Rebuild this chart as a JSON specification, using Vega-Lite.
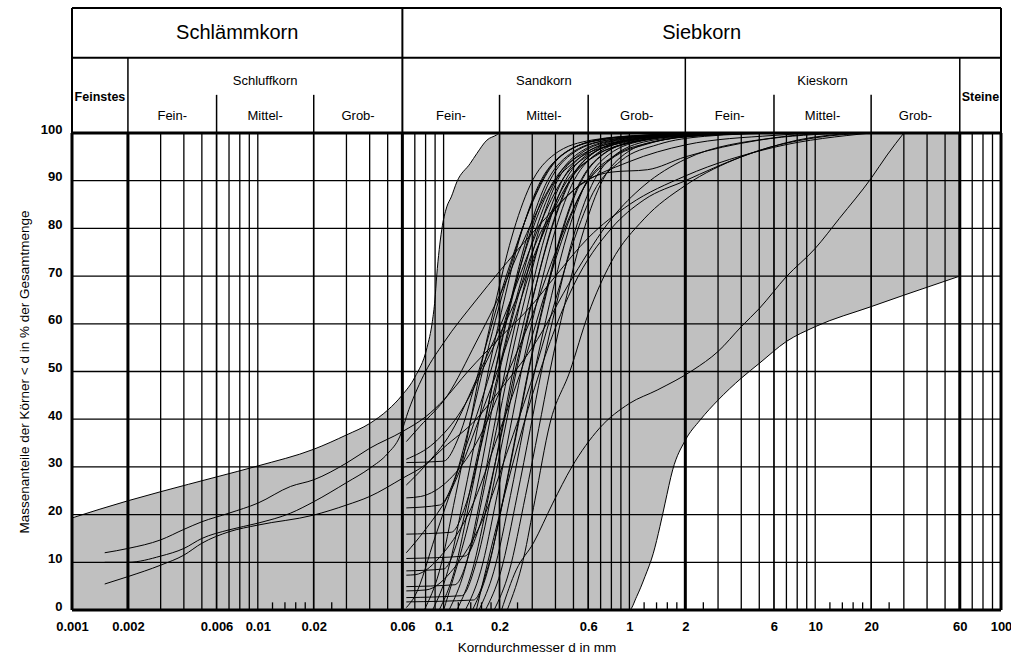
{
"$schema": "https://vega.github.io/schema/vega-lite/v6.json",
"width": 929, "height": 477,
"autosize": {"type": "none"},
"padding": {"left": 72, "top": 133, "right": 10, "bottom": 47},
"config": {"view": {"stroke": null}, "font": "Liberation Sans"},
"datasets": {
"env": [
{"d":0.001,"p":19.3,"lo":0},{"d":0.002,"p":22.9,"lo":0},{"d":0.003,"p":24.8,"lo":0},{"d":0.006,"p":27.9,"lo":0},{"d":0.01,"p":30.2,"lo":0},{"d":0.02,"p":33.7,"lo":0},{"d":0.03,"p":36.7,"lo":0},{"d":0.04,"p":39.1,"lo":0},{"d":0.05,"p":41.9,"lo":0},{"d":0.06,"p":45.1,"lo":0},{"d":0.07,"p":48.8,"lo":0},{"d":0.0814,"p":55,"lo":0},{"d":0.087,"p":60.5,"lo":0},{"d":0.0898,"p":65,"lo":0},{"d":0.0918,"p":70,"lo":0},{"d":0.0977,"p":79.7,"lo":0},{"d":0.104,"p":84.5,"lo":0},{"d":0.11,"p":86.6,"lo":0},{"d":0.118,"p":89.8,"lo":0},{"d":0.139,"p":93.6,"lo":0},{"d":0.151,"p":95.7,"lo":0},{"d":0.171,"p":98.5,"lo":0},{"d":0.193,"p":99.6,"lo":0},{"d":0.2,"p":100,"lo":0},
{"d":1.0,"p":100,"lo":0},{"d":1.094,"p":100,"lo":2.8},{"d":1.213,"p":100,"lo":7},{"d":1.345,"p":100,"lo":11.9},{"d":1.46,"p":100,"lo":17.5},{"d":1.556,"p":100,"lo":22.4},{"d":1.71,"p":100,"lo":29.4},{"d":2.0,"p":100,"lo":35.6},{"d":2.4,"p":100,"lo":39.8},{"d":3,"p":100,"lo":44},{"d":4,"p":100,"lo":48.6},{"d":5,"p":100,"lo":51.7},{"d":7,"p":100,"lo":56.3},{"d":10,"p":100,"lo":59.4},{"d":20,"p":100,"lo":63.6},{"d":30,"p":100,"lo":66},{"d":60,"p":100,"lo":70}
],
"hgrid": [{"p":10},{"p":20},{"p":30},{"p":40},{"p":50},{"p":60},{"p":70},{"p":80},{"p":90}],
"vthin": [{"d":0.003},{"d":0.004},{"d":0.005},{"d":0.007},{"d":0.008},{"d":0.009},{"d":0.01},{"d":0.03},{"d":0.04},{"d":0.05},{"d":0.07},{"d":0.08},{"d":0.09},{"d":0.1},{"d":0.3},{"d":0.4},{"d":0.5},{"d":0.7},{"d":0.8},{"d":0.9},{"d":1},{"d":3},{"d":4},{"d":5},{"d":7},{"d":8},{"d":9},{"d":10},{"d":30},{"d":40},{"d":50},{"d":70},{"d":80},{"d":90}],
"vmed": [{"d":0.006},{"d":0.02},{"d":0.2},{"d":0.6},{"d":6},{"d":20}],
"vthick": [{"d":0.002},{"d":0.06},{"d":2},{"d":60}],
"minor": [{"d":0.012},{"d":0.014},{"d":0.016},{"d":0.018},{"d":0.025},{"d":0.12},{"d":0.14},{"d":0.16},{"d":0.18},{"d":0.25},{"d":1.2},{"d":1.4},{"d":1.6},{"d":1.8},{"d":2.5},{"d":12},{"d":14},{"d":16},{"d":18},{"d":25}],
"borderH": [{"p":0},{"p":100}],
"borderV": [{"d":0.001},{"d":100}],
"hdrFull": [{"d":0.001},{"d":0.06},{"d":100}],
"hdrMid": [{"d":0.002},{"d":2},{"d":60}],
"hdrSub": [{"d":0.006},{"d":0.02},{"d":0.2},{"d":0.6},{"d":6},{"d":20}],
"hdrRows": [{"p":115.8},{"p":126.2}],
"hdrBig": [{"label":"Schlämmkorn","d":0.00775},{"label":"Siebkorn","d":2.449}],
"hdrClass": [{"label":"Schluffkorn","d":0.01095},{"label":"Sandkorn","d":0.3464},{"label":"Kieskorn","d":10.95}],
"hdrEdge": [{"label":"Feinstes","d":0.001414},{"label":"Steine","d":77.46}],
"hdrSubLbl": [{"label":"Fein-","d":0.003464},{"label":"Mittel-","d":0.01095},{"label":"Grob-","d":0.03464},{"label":"Fein-","d":0.1095},{"label":"Mittel-","d":0.3464},{"label":"Grob-","d":1.095},{"label":"Fein-","d":3.464},{"label":"Mittel-","d":10.95},{"label":"Grob-","d":34.64}],
"curves": [
{"id":"S1","d":0.0015,"p":12.0},{"id":"S1","d":0.002,"p":12.9},{"id":"S1","d":0.003,"p":14.7},{"id":"S1","d":0.004,"p":16.9},{"id":"S1","d":0.005,"p":18.5},{"id":"S1","d":0.007,"p":20.3},{"id":"S1","d":0.01,"p":22.4},{"id":"S1","d":0.015,"p":25.9},{"id":"S1","d":0.02,"p":27.3},{"id":"S1","d":0.03,"p":30.8},{"id":"S1","d":0.04,"p":33.9},{"id":"S1","d":0.06,"p":37.4},{"id":"S1","d":0.08,"p":40.5},{"id":"S1","d":0.1,"p":44},{"id":"S1","d":0.135,"p":50},{"id":"S1","d":0.2,"p":57},{"id":"S1","d":0.3,"p":64},{"id":"S1","d":0.4,"p":70},{"id":"S1","d":0.6,"p":78},{"id":"S1","d":1,"p":85},{"id":"S1","d":2,"p":91},{"id":"S1","d":6,"p":97},{"id":"S1","d":20,"p":100},
{"id":"S2","d":0.0015,"p":10},{"id":"S2","d":0.002,"p":10},{"id":"S2","d":0.003,"p":11.3},{"id":"S2","d":0.004,"p":12.9},{"id":"S2","d":0.005,"p":15},{"id":"S2","d":0.007,"p":16.8},{"id":"S2","d":0.01,"p":18.2},{"id":"S2","d":0.015,"p":20.3},{"id":"S2","d":0.02,"p":22.7},{"id":"S2","d":0.03,"p":26.7},{"id":"S2","d":0.04,"p":29.7},{"id":"S2","d":0.05,"p":32.8},{"id":"S2","d":0.058,"p":36.3},{"id":"S2","d":0.065,"p":42},{"id":"S2","d":0.08,"p":50},{"id":"S2","d":0.1,"p":56},{"id":"S2","d":0.15,"p":65},{"id":"S2","d":0.2,"p":71},{"id":"S2","d":0.3,"p":79},{"id":"S2","d":0.5,"p":88},{"id":"S2","d":1,"p":94},{"id":"S2","d":2,"p":97.5},{"id":"S2","d":6,"p":99.5},{"id":"S2","d":10,"p":100},
{"id":"S3","d":0.0015,"p":5.45},{"id":"S3","d":0.002,"p":7.0},{"id":"S3","d":0.003,"p":9.4},{"id":"S3","d":0.004,"p":11.5},{"id":"S3","d":0.005,"p":14.0},{"id":"S3","d":0.007,"p":16.4},{"id":"S3","d":0.01,"p":17.8},{"id":"S3","d":0.02,"p":19.9},{"id":"S3","d":0.03,"p":22.0},{"id":"S3","d":0.04,"p":23.8},{"id":"S3","d":0.06,"p":27.6},{"id":"S3","d":0.08,"p":30.5},{"id":"S3","d":0.1,"p":34},{"id":"S3","d":0.15,"p":40},{"id":"S3","d":0.2,"p":46},{"id":"S3","d":0.3,"p":55},{"id":"S3","d":0.5,"p":70},{"id":"S3","d":0.8,"p":82},{"id":"S3","d":1.2,"p":89},{"id":"S3","d":2,"p":94.5},{"id":"S3","d":6,"p":99},{"id":"S3","d":12,"p":100},
{"id":"L1","d":0.063,"p":35.3},{"id":"L1","d":0.0746,"p":38.5},{"id":"L1","d":0.105,"p":45.0},{"id":"L1","d":0.149,"p":56.0},{"id":"L1","d":0.21,"p":67.7},{"id":"L1","d":0.264,"p":76.7},{"id":"L1","d":0.333,"p":85.1},{"id":"L1","d":0.419,"p":91.6},{"id":"L1","d":0.592,"p":96.1},{"id":"L1","d":0.938,"p":98.4},{"id":"L1","d":1.67,"p":99.5},{"id":"L1","d":4.19,"p":100},
{"id":"L2","d":0.063,"p":31.6},{"id":"L2","d":0.0888,"p":35.0},{"id":"L2","d":0.125,"p":41.9},{"id":"L2","d":0.177,"p":53.5},{"id":"L2","d":0.25,"p":65.8},{"id":"L2","d":0.315,"p":75.4},{"id":"L2","d":0.396,"p":84.3},{"id":"L2","d":0.499,"p":91.1},{"id":"L2","d":0.705,"p":95.9},{"id":"L2","d":1.12,"p":98.3},{"id":"L2","d":1.99,"p":99.5},{"id":"L2","d":4.99,"p":100},
{"id":"L3","d":0.063,"p":30.9},{"id":"L3","d":0.1,"p":31.2},{"id":"L3","d":0.121,"p":36.4},{"id":"L3","d":0.148,"p":47.5},{"id":"L3","d":0.174,"p":57.2},{"id":"L3","d":0.2,"p":65.5},{"id":"L3","d":0.24,"p":75.1},{"id":"L3","d":0.296,"p":84.8},{"id":"L3","d":0.372,"p":92.4},{"id":"L3","d":0.502,"p":96.9},{"id":"L3","d":0.796,"p":99.0},{"id":"L3","d":1.59,"p":99.7},{"id":"L3","d":3.17,"p":100},
{"id":"L4","d":0.063,"p":26.2},{"id":"L4","d":0.0781,"p":29.9},{"id":"L4","d":0.11,"p":37.3},{"id":"L4","d":0.156,"p":49.8},{"id":"L4","d":0.22,"p":63.1},{"id":"L4","d":0.277,"p":73.4},{"id":"L4","d":0.349,"p":83.0},{"id":"L4","d":0.439,"p":90.4},{"id":"L4","d":0.62,"p":95.6},{"id":"L4","d":0.983,"p":98.2},{"id":"L4","d":1.75,"p":99.5},{"id":"L4","d":4.39,"p":100},
{"id":"L5","d":0.063,"p":23.5},{"id":"L5","d":0.0753,"p":23.8},{"id":"L5","d":0.107,"p":27.3},{"id":"L5","d":0.15,"p":35.0},{"id":"L5","d":0.212,"p":48.0},{"id":"L5","d":0.3,"p":61.8},{"id":"L5","d":0.378,"p":72.5},{"id":"L5","d":0.476,"p":82.4},{"id":"L5","d":0.599,"p":90.1},{"id":"L5","d":0.845,"p":95.4},{"id":"L5","d":1.34,"p":98.1},{"id":"L5","d":2.38,"p":99.5},{"id":"L5","d":5.99,"p":100},
{"id":"L6","d":0.063,"p":21.4},{"id":"L6","d":0.0952,"p":22.0},{"id":"L6","d":0.115,"p":27.7},{"id":"L6","d":0.141,"p":40.3},{"id":"L6","d":0.165,"p":51.3},{"id":"L6","d":0.19,"p":60.7},{"id":"L6","d":0.228,"p":71.7},{"id":"L6","d":0.281,"p":82.7},{"id":"L6","d":0.354,"p":91.4},{"id":"L6","d":0.477,"p":96.5},{"id":"L6","d":0.756,"p":98.8},{"id":"L6","d":1.51,"p":99.7},{"id":"L6","d":3.01,"p":100},
{"id":"L7","d":0.063,"p":15.9},{"id":"L7","d":0.11,"p":16.3},{"id":"L7","d":0.133,"p":22.6},{"id":"L7","d":0.163,"p":36.1},{"id":"L7","d":0.192,"p":47.9},{"id":"L7","d":0.22,"p":57.9},{"id":"L7","d":0.264,"p":69.7},{"id":"L7","d":0.325,"p":81.5},{"id":"L7","d":0.41,"p":90.7},{"id":"L7","d":0.553,"p":96.2},{"id":"L7","d":0.876,"p":98.7},{"id":"L7","d":1.75,"p":99.7},{"id":"L7","d":3.49,"p":100},
{"id":"L8","d":0.063,"p":12},{"id":"L8","d":0.0781,"p":16.4},{"id":"L8","d":0.11,"p":25.2},{"id":"L8","d":0.156,"p":40.2},{"id":"L8","d":0.22,"p":56.0},{"id":"L8","d":0.277,"p":68.3},{"id":"L8","d":0.349,"p":79.8},{"id":"L8","d":0.439,"p":88.6},{"id":"L8","d":0.62,"p":94.7},{"id":"L8","d":0.983,"p":97.8},{"id":"L8","d":1.75,"p":99.4},{"id":"L8","d":4.39,"p":100},
{"id":"L9","d":0.063,"p":10.8},{"id":"L9","d":0.13,"p":11.3},{"id":"L9","d":0.157,"p":17.9},{"id":"L9","d":0.193,"p":32.2},{"id":"L9","d":0.226,"p":44.7},{"id":"L9","d":0.26,"p":55.4},{"id":"L9","d":0.313,"p":67.9},{"id":"L9","d":0.385,"p":80.4},{"id":"L9","d":0.484,"p":90.2},{"id":"L9","d":0.653,"p":96.0},{"id":"L9","d":1.04,"p":98.7},{"id":"L9","d":2.07,"p":99.6},{"id":"L9","d":4.12,"p":100},
{"id":"L10","d":0.063,"p":8.2},{"id":"L10","d":0.1,"p":8.6},{"id":"L10","d":0.121,"p":15.5},{"id":"L10","d":0.148,"p":30.2},{"id":"L10","d":0.174,"p":43.1},{"id":"L10","d":0.2,"p":54.1},{"id":"L10","d":0.24,"p":67.0},{"id":"L10","d":0.296,"p":79.8},{"id":"L10","d":0.372,"p":89.9},{"id":"L10","d":0.502,"p":95.9},{"id":"L10","d":0.796,"p":98.6},{"id":"L10","d":1.59,"p":99.6},{"id":"L10","d":3.17,"p":100},
{"id":"L11","d":0.063,"p":7.3},{"id":"L11","d":0.0703,"p":7.4},{"id":"L11","d":0.0994,"p":11.9},{"id":"L11","d":0.14,"p":21.2},{"id":"L11","d":0.198,"p":37.0},{"id":"L11","d":0.28,"p":53.7},{"id":"L11","d":0.353,"p":66.6},{"id":"L11","d":0.444,"p":78.7},{"id":"L11","d":0.559,"p":88.0},{"id":"L11","d":0.789,"p":94.4},{"id":"L11","d":1.25,"p":97.7},{"id":"L11","d":2.22,"p":99.4},{"id":"L11","d":5.59,"p":100},
{"id":"L12","d":0.063,"p":4.9},{"id":"L12","d":0.115,"p":5.3},{"id":"L12","d":0.139,"p":12.5},{"id":"L12","d":0.17,"p":27.7},{"id":"L12","d":0.2,"p":41.0},{"id":"L12","d":0.23,"p":52.5},{"id":"L12","d":0.276,"p":65.8},{"id":"L12","d":0.34,"p":79.1},{"id":"L12","d":0.428,"p":89.5},{"id":"L12","d":0.578,"p":95.7},{"id":"L12","d":0.916,"p":98.6},{"id":"L12","d":1.83,"p":99.6},{"id":"L12","d":3.65,"p":100},
{"id":"L13","d":0.063,"p":4.0},{"id":"L13","d":0.0803,"p":4.2},{"id":"L13","d":0.114,"p":8.8},{"id":"L13","d":0.16,"p":18.4},{"id":"L13","d":0.227,"p":34.7},{"id":"L13","d":0.32,"p":52.0},{"id":"L13","d":0.403,"p":65.4},{"id":"L13","d":0.507,"p":77.9},{"id":"L13","d":0.638,"p":87.5},{"id":"L13","d":0.902,"p":94.2},{"id":"L13","d":1.43,"p":97.6},{"id":"L13","d":2.54,"p":99.3},{"id":"L13","d":6.38,"p":100},
{"id":"L14","d":0.063,"p":2.6},{"id":"L14","d":0.125,"p":3.0},{"id":"L14","d":0.151,"p":10.4},{"id":"L14","d":0.185,"p":26.0},{"id":"L14","d":0.218,"p":39.6},{"id":"L14","d":0.25,"p":51.3},{"id":"L14","d":0.301,"p":65.0},{"id":"L14","d":0.37,"p":78.6},{"id":"L14","d":0.466,"p":89.3},{"id":"L14","d":0.628,"p":95.6},{"id":"L14","d":0.995,"p":98.5},{"id":"L14","d":1.99,"p":99.6},{"id":"L14","d":3.96,"p":100},
{"id":"L15","d":0.063,"p":1.7},{"id":"L15","d":0.145,"p":2.1},{"id":"L15","d":0.175,"p":9.6},{"id":"L15","d":0.215,"p":25.3},{"id":"L15","d":0.253,"p":39.1},{"id":"L15","d":0.29,"p":50.9},{"id":"L15","d":0.349,"p":64.6},{"id":"L15","d":0.429,"p":78.4},{"id":"L15","d":0.54,"p":89.2},{"id":"L15","d":0.728,"p":95.6},{"id":"L15","d":1.15,"p":98.5},{"id":"L15","d":2.3,"p":99.6},{"id":"L15","d":4.6,"p":100},
{"id":"L16","d":0.063,"p":0.5},{"id":"L16","d":0.0702,"p":3},{"id":"L16","d":0.0902,"p":15.4},{"id":"L16","d":0.127,"p":32.3},{"id":"L16","d":0.18,"p":50.3},{"id":"L16","d":0.227,"p":64.2},{"id":"L16","d":0.285,"p":77.1},{"id":"L16","d":0.359,"p":87.1},{"id":"L16","d":0.507,"p":94.0},{"id":"L16","d":0.804,"p":97.5},{"id":"L16","d":1.43,"p":99.3},{"id":"L16","d":3.59,"p":100},
{"id":"Z1","d":0.0787,"p":0},{"id":"Z1","d":0.0947,"p":8},{"id":"Z1","d":0.116,"p":24},{"id":"Z1","d":0.137,"p":38},{"id":"Z1","d":0.157,"p":50},{"id":"Z1","d":0.189,"p":64},{"id":"Z1","d":0.232,"p":78},{"id":"Z1","d":0.292,"p":89},{"id":"Z1","d":0.394,"p":95.5},{"id":"Z1","d":0.625,"p":98.5},{"id":"Z1","d":1.25,"p":99.6},{"id":"Z1","d":2.49,"p":100},
{"id":"Z2","d":0.0872,"p":0},{"id":"Z2","d":0.105,"p":8},{"id":"Z2","d":0.129,"p":24},{"id":"Z2","d":0.152,"p":38},{"id":"Z2","d":0.174,"p":50},{"id":"Z2","d":0.209,"p":64},{"id":"Z2","d":0.257,"p":78},{"id":"Z2","d":0.324,"p":89},{"id":"Z2","d":0.437,"p":95.5},{"id":"Z2","d":0.693,"p":98.5},{"id":"Z2","d":1.38,"p":99.6},{"id":"Z2","d":2.76,"p":100},
{"id":"Z3","d":0.0947,"p":0},{"id":"Z3","d":0.114,"p":8},{"id":"Z3","d":0.14,"p":24},{"id":"Z3","d":0.165,"p":38},{"id":"Z3","d":0.189,"p":50},{"id":"Z3","d":0.227,"p":64},{"id":"Z3","d":0.28,"p":78},{"id":"Z3","d":0.352,"p":89},{"id":"Z3","d":0.475,"p":95.5},{"id":"Z3","d":0.752,"p":98.5},{"id":"Z3","d":1.5,"p":99.6},{"id":"Z3","d":3.0,"p":100},
{"id":"Z4","d":0.107,"p":0},{"id":"Z4","d":0.129,"p":8},{"id":"Z4","d":0.159,"p":24},{"id":"Z4","d":0.186,"p":38},{"id":"Z4","d":0.214,"p":50},{"id":"Z4","d":0.257,"p":64},{"id":"Z4","d":0.317,"p":78},{"id":"Z4","d":0.398,"p":89},{"id":"Z4","d":0.538,"p":95.5},{"id":"Z4","d":0.852,"p":98.5},{"id":"Z4","d":1.7,"p":99.6},{"id":"Z4","d":3.39,"p":100},
{"id":"Z5","d":0.118,"p":0},{"id":"Z5","d":0.142,"p":8},{"id":"Z5","d":0.175,"p":24},{"id":"Z5","d":0.206,"p":38},{"id":"Z5","d":0.236,"p":50},{"id":"Z5","d":0.284,"p":64},{"id":"Z5","d":0.349,"p":78},{"id":"Z5","d":0.439,"p":89},{"id":"Z5","d":0.593,"p":95.5},{"id":"Z5","d":0.94,"p":98.5},{"id":"Z5","d":1.87,"p":99.6},{"id":"Z5","d":3.74,"p":100},
{"id":"Z6","d":0.131,"p":0},{"id":"Z6","d":0.158,"p":8},{"id":"Z6","d":0.194,"p":24},{"id":"Z6","d":0.228,"p":38},{"id":"Z6","d":0.262,"p":50},{"id":"Z6","d":0.315,"p":64},{"id":"Z6","d":0.388,"p":78},{"id":"Z6","d":0.488,"p":89},{"id":"Z6","d":0.658,"p":95.5},{"id":"Z6","d":1.04,"p":98.5},{"id":"Z6","d":2.08,"p":99.6},{"id":"Z6","d":4.15,"p":100},
{"id":"Z7","d":0.143,"p":0},{"id":"Z7","d":0.172,"p":8},{"id":"Z7","d":0.211,"p":24},{"id":"Z7","d":0.248,"p":38},{"id":"Z7","d":0.285,"p":50},{"id":"Z7","d":0.343,"p":64},{"id":"Z7","d":0.422,"p":78},{"id":"Z7","d":0.531,"p":89},{"id":"Z7","d":0.716,"p":95.5},{"id":"Z7","d":1.13,"p":98.5},{"id":"Z7","d":2.26,"p":99.6},{"id":"Z7","d":4.52,"p":100},
{"id":"Z8","d":0.155,"p":0},{"id":"Z8","d":0.186,"p":8},{"id":"Z8","d":0.229,"p":24},{"id":"Z8","d":0.269,"p":38},{"id":"Z8","d":0.309,"p":50},{"id":"Z8","d":0.371,"p":64},{"id":"Z8","d":0.457,"p":78},{"id":"Z8","d":0.575,"p":89},{"id":"Z8","d":0.776,"p":95.5},{"id":"Z8","d":1.23,"p":98.5},{"id":"Z8","d":2.45,"p":99.6},{"id":"Z8","d":4.9,"p":100},
{"id":"Z9","d":0.168,"p":0},{"id":"Z9","d":0.203,"p":8},{"id":"Z9","d":0.249,"p":24},{"id":"Z9","d":0.293,"p":38},{"id":"Z9","d":0.336,"p":50},{"id":"Z9","d":0.404,"p":64},{"id":"Z9","d":0.497,"p":78},{"id":"Z9","d":0.626,"p":89},{"id":"Z9","d":0.844,"p":95.5},{"id":"Z9","d":1.34,"p":98.5},{"id":"Z9","d":2.67,"p":99.6},{"id":"Z9","d":5.33,"p":100},
{"id":"Z10","d":0.187,"p":0},{"id":"Z10","d":0.225,"p":8},{"id":"Z10","d":0.276,"p":24},{"id":"Z10","d":0.325,"p":38},{"id":"Z10","d":0.373,"p":50},{"id":"Z10","d":0.448,"p":64},{"id":"Z10","d":0.552,"p":78},{"id":"Z10","d":0.695,"p":89},{"id":"Z10","d":0.937,"p":95.5},{"id":"Z10","d":1.48,"p":98.5},{"id":"Z10","d":2.96,"p":99.6},{"id":"Z10","d":5.91,"p":100},
{"id":"G1","d":0.205,"p":0},{"id":"G1","d":0.246,"p":8.4},{"id":"G1","d":0.304,"p":14},{"id":"G1","d":0.387,"p":22.4},{"id":"G1","d":0.49,"p":30},{"id":"G1","d":0.69,"p":38.1},{"id":"G1","d":1.0,"p":43.3},{"id":"G1","d":1.41,"p":46.1},{"id":"G1","d":2.2,"p":50.3},{"id":"G1","d":3,"p":54.2},{"id":"G1","d":4,"p":59.4},{"id":"G1","d":5,"p":63.2},{"id":"G1","d":7,"p":69.9},{"id":"G1","d":10,"p":75.8},{"id":"G1","d":13.5,"p":82.1},{"id":"G1","d":20,"p":90.5},{"id":"G1","d":24.4,"p":95.4},{"id":"G1","d":30,"p":100},
{"id":"G2","d":0.15,"p":0},{"id":"G2","d":0.2,"p":20},{"id":"G2","d":0.3,"p":45},{"id":"G2","d":0.5,"p":68},{"id":"G2","d":0.8,"p":80},{"id":"G2","d":1.2,"p":86},{"id":"G2","d":2,"p":90},{"id":"G2","d":4,"p":95},{"id":"G2","d":8,"p":98.5},{"id":"G2","d":16,"p":100},
{"id":"G3","d":0.22,"p":0},{"id":"G3","d":0.27,"p":11},{"id":"G3","d":0.31,"p":23},{"id":"G3","d":0.373,"p":39},{"id":"G3","d":0.478,"p":50},{"id":"G3","d":0.6,"p":62},{"id":"G3","d":0.8,"p":73},{"id":"G3","d":1.2,"p":82},{"id":"G3","d":2,"p":89},{"id":"G3","d":4,"p":95},{"id":"G3","d":10,"p":99},{"id":"G3","d":20,"p":100},
{"id":"G4","d":0.1,"p":0},{"id":"G4","d":0.15,"p":25},{"id":"G4","d":0.2,"p":50},{"id":"G4","d":0.3,"p":75},{"id":"G4","d":0.5,"p":88},{"id":"G4","d":0.8,"p":91.8},{"id":"G4","d":1.25,"p":92.3},{"id":"G4","d":2,"p":95},{"id":"G4","d":5,"p":98.5},{"id":"G4","d":15,"p":100}
]
},
"layer": [
{"data": {"name": "env"},
 "mark": {"type": "area", "fill": "#c0c0c0", "stroke": "#000", "strokeWidth": 1, "interpolate": "monotone"},
 "encoding": {
  "x": {"field": "d", "type": "quantitative", "scale": {"type": "log", "domain": [0.001, 100], "nice": false},
   "axis": {"values": [0.001,0.002,0.006,0.01,0.02,0.06,0.1,0.2,0.6,1,2,6,10,20,60,100], "format": "~g", "labelFont": "Liberation Sans", "labelFontWeight": "bold", "labelFontSize": 13, "labelColor": "#000", "ticks": false, "domain": false, "grid": false, "labelPadding": 10, "labelFlush": false, "labelOverlap": false, "title": "Korndurchmesser d in mm", "titleFont": "Liberation Sans", "titleFontSize": 13.5, "titleFontWeight": "normal", "titleColor": "#000", "titlePadding": 7}},
  "y": {"field": "p", "type": "quantitative", "scale": {"domain": [0, 100], "nice": false, "zero": false},
   "axis": {"values": [0,10,20,30,40,50,60,70,80,90,100], "labelFont": "Liberation Sans", "labelFontWeight": "bold", "labelFontSize": 13, "labelColor": "#000", "labelBaseline": "alphabetic", "ticks": false, "domain": false, "grid": false, "labelPadding": 10, "title": "Massenanteile der Körner < d in % der Gesamtmenge", "titleFont": "Liberation Sans", "titleFontSize": 13.5, "titleFontWeight": "normal", "titleColor": "#000", "titlePadding": 9}},
  "y2": {"field": "lo"}
 }},
{"data": {"name": "hgrid"}, "mark": {"type": "rule", "color": "#000", "strokeWidth": 1.3},
 "encoding": {"y": {"field": "p", "type": "quantitative"}}},
{"data": {"name": "vthin"}, "mark": {"type": "rule", "color": "#000", "strokeWidth": 1.3},
 "encoding": {"x": {"field": "d", "type": "quantitative"}}},
{"data": {"name": "vmed"}, "mark": {"type": "rule", "color": "#000", "strokeWidth": 1.7},
 "encoding": {"x": {"field": "d", "type": "quantitative"}}},
{"data": {"name": "vthick"}, "mark": {"type": "rule", "color": "#000", "strokeWidth": 3},
 "encoding": {"x": {"field": "d", "type": "quantitative"}}},
{"data": {"name": "minor"}, "mark": {"type": "rule", "color": "#000", "strokeWidth": 1.3},
 "encoding": {"x": {"field": "d", "type": "quantitative"}, "y": {"datum": 0}, "y2": {"datum": 1.6}}},
{"data": {"name": "curves"}, "mark": {"type": "line", "color": "#000", "strokeWidth": 1, "interpolate": "monotone"},
 "encoding": {"x": {"field": "d", "type": "quantitative"}, "y": {"field": "p", "type": "quantitative"}, "detail": {"field": "id"}}},
{"data": {"name": "borderH"}, "mark": {"type": "rule", "color": "#000", "strokeWidth": 3},
 "encoding": {"y": {"field": "p", "type": "quantitative"}}},
{"data": {"name": "borderV"}, "mark": {"type": "rule", "color": "#000", "strokeWidth": 3},
 "encoding": {"x": {"field": "d", "type": "quantitative"}}},
{"data": {"name": "hdrRows"}, "mark": {"type": "rule", "color": "#000", "strokeWidth": 2},
 "encoding": {"y": {"field": "p", "type": "quantitative"}}},
{"data": {"name": "hdrFull"}, "mark": {"type": "rule", "color": "#000", "strokeWidth": 2},
 "encoding": {"x": {"field": "d", "type": "quantitative"}, "y": {"datum": 100}, "y2": {"datum": 126.2}}},
{"data": {"name": "hdrMid"}, "mark": {"type": "rule", "color": "#000", "strokeWidth": 1.5},
 "encoding": {"x": {"field": "d", "type": "quantitative"}, "y": {"datum": 100}, "y2": {"datum": 115.8}}},
{"data": {"name": "hdrSub"}, "mark": {"type": "rule", "color": "#000", "strokeWidth": 1.5},
 "encoding": {"x": {"field": "d", "type": "quantitative"}, "y": {"datum": 100}, "y2": {"datum": 108}}},
{"data": {"name": "hdrBig"}, "mark": {"type": "text", "font": "Liberation Sans", "fontSize": 20, "color": "#000", "baseline": "middle"},
 "encoding": {"x": {"field": "d", "type": "quantitative"}, "y": {"datum": 121}, "text": {"field": "label"}}},
{"data": {"name": "hdrClass"}, "mark": {"type": "text", "font": "Liberation Sans", "fontSize": 13, "color": "#000", "baseline": "middle"},
 "encoding": {"x": {"field": "d", "type": "quantitative"}, "y": {"datum": 111}, "text": {"field": "label"}}},
{"data": {"name": "hdrEdge"}, "mark": {"type": "text", "font": "Liberation Sans", "fontSize": 12.5, "fontWeight": "bold", "color": "#000", "baseline": "middle"},
 "encoding": {"x": {"field": "d", "type": "quantitative"}, "y": {"datum": 107.5}, "text": {"field": "label"}}},
{"data": {"name": "hdrSubLbl"}, "mark": {"type": "text", "font": "Liberation Sans", "fontSize": 13, "color": "#000", "baseline": "middle"},
 "encoding": {"x": {"field": "d", "type": "quantitative"}, "y": {"datum": 103.6}, "text": {"field": "label"}}}
]
}
